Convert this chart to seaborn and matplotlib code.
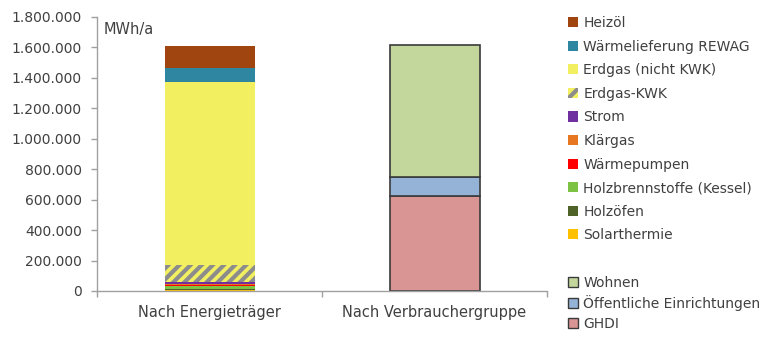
import matplotlib
matplotlib.use("Agg")
import matplotlib.pyplot as plt
import seaborn as sns
import pandas as pd
from matplotlib.patches import Patch

categories = ["Nach Energieträger", "Nach Verbrauchergruppe"]

# Energieträger (bottom to top), MWh/a
energy_labels = ["Solarthermie", "Holzöfen", "Holzbrennstoffe (Kessel)", "Wärmepumpen",
                 "Klärgas", "Strom", "Erdgas-KWK", "Erdgas (nicht KWK)",
                 "Wärmelieferung REWAG", "Heizöl"]
energy_values = [5000, 6000, 22000, 7000, 5000, 13000, 112000, 1205000, 92000, 144000]
energy_colors = ["#FFC000", "#4F6228", "#7DC242", "#FF0000", "#E87722", "#7030A0",
                 "#F2F060", "#F2F060", "#2E86A0", "#A0450F"]

# Verbrauchergruppen (bottom to top)
group_labels = ["GHDI", "Öffentliche Einrichtungen", "Wohnen"]
group_values = [624000, 126000, 866000]
group_colors = ["#D99594", "#95B3D7", "#C3D69B"]

yticks = [0, 200000, 400000, 600000, 800000, 1000000, 1200000, 1400000, 1600000, 1800000]
ytick_labels = ["0", "200.000", "400.000", "600.000", "800.000", "1.000.000",
                "1.200.000", "1.400.000", "1.600.000", "1.800.000"]

sns.set_style("white")
plt.rcParams["font.family"] = ["DejaVu Sans"]
plt.rcParams["hatch.linewidth"] = 3.0
plt.rcParams["hatch.color"] = "#8C8C8C"
txt = "#404040"

fig = plt.figure(figsize=(7.82, 3.37), dpi=100)
ax = fig.add_axes([97/782, 1-291/337, 450/782, 274/337])

bottom = 0
for lab, val, col in zip(energy_labels, energy_values, energy_colors):
    df = pd.DataFrame({"cat": [categories[0]], "val": [val]})
    if lab == "Erdgas-KWK":
        kw = dict(hatch="///", edgecolor="#8C8C8C", linewidth=0)
    else:
        kw = dict(edgecolor="none", linewidth=0)
    sns.barplot(data=df, x="cat", y="val", order=categories, color=col, width=0.4,
                bottom=bottom, ax=ax, saturation=1, **kw)
    bottom += val

bottom = 0
for lab, val, col in zip(group_labels, group_values, group_colors):
    df = pd.DataFrame({"cat": [categories[1]], "val": [val]})
    sns.barplot(data=df, x="cat", y="val", order=categories, color=col, width=0.4,
                bottom=bottom, ax=ax, saturation=1, edgecolor="#3A3A3A", linewidth=1.2)
    bottom += val

ax.set_xlim(-0.5, 1.5)
ax.set_ylim(0, 1800000)
ax.set_yticks(yticks)
ax.set_yticklabels(ytick_labels, color=txt, fontsize=10)
ax.set_xticks([0, 1])
ax.set_xticklabels(categories, color=txt, fontsize=10.5)
ax.set_xticks([-0.5, 0.5, 1.5], minor=True)
ax.tick_params(axis="x", which="major", length=0, pad=10, bottom=True)
ax.tick_params(axis="x", which="minor", length=4, color="#A0A0A0", width=1,
               direction="out", bottom=True)
ax.tick_params(axis="y", length=4, color="#A0A0A0", width=1, direction="out", pad=7,
               left=True)
ax.set_xlabel("")
ax.set_ylabel("")
for s in ["top", "right"]:
    ax.spines[s].set_visible(False)
for s in ["left", "bottom"]:
    ax.spines[s].set_color("#A0A0A0")
    ax.spines[s].set_linewidth(1)
ax.text(0.015, 0.98, "MWh/a", transform=ax.transAxes, color=txt, fontsize=10.5,
        va="top", ha="left")

# Legend 1: energy carriers (top to bottom)
h1 = []
for lab, col in zip(energy_labels[::-1], energy_colors[::-1]):
    if lab == "Erdgas-KWK":
        h1.append(Patch(facecolor="#F2F060", edgecolor="#8C8C8C", hatch="//", linewidth=0, label=lab))
    else:
        h1.append(Patch(facecolor=col, edgecolor="none", label=lab))
leg1 = fig.legend(handles=h1, loc="upper left", bbox_to_anchor=(568/782, 1-16/337),
                  frameon=False, fontsize=10, handlelength=0.75, handleheight=0.75,
                  handletextpad=0.35, labelspacing=0.69, borderpad=0, borderaxespad=0,
                  labelcolor=txt)

h2 = [Patch(facecolor=col, edgecolor="#3A3A3A", linewidth=1, label=lab)
      for lab, col in zip(group_labels[::-1], group_colors[::-1])]
leg2 = fig.legend(handles=h2, loc="upper left", bbox_to_anchor=(568/782, 1-276/337),
                  frameon=False, fontsize=10, handlelength=0.75, handleheight=0.75,
                  handletextpad=0.35, labelspacing=0.38, borderpad=0, borderaxespad=0,
                  labelcolor=txt)

fig.savefig("out.png", dpi=100)
